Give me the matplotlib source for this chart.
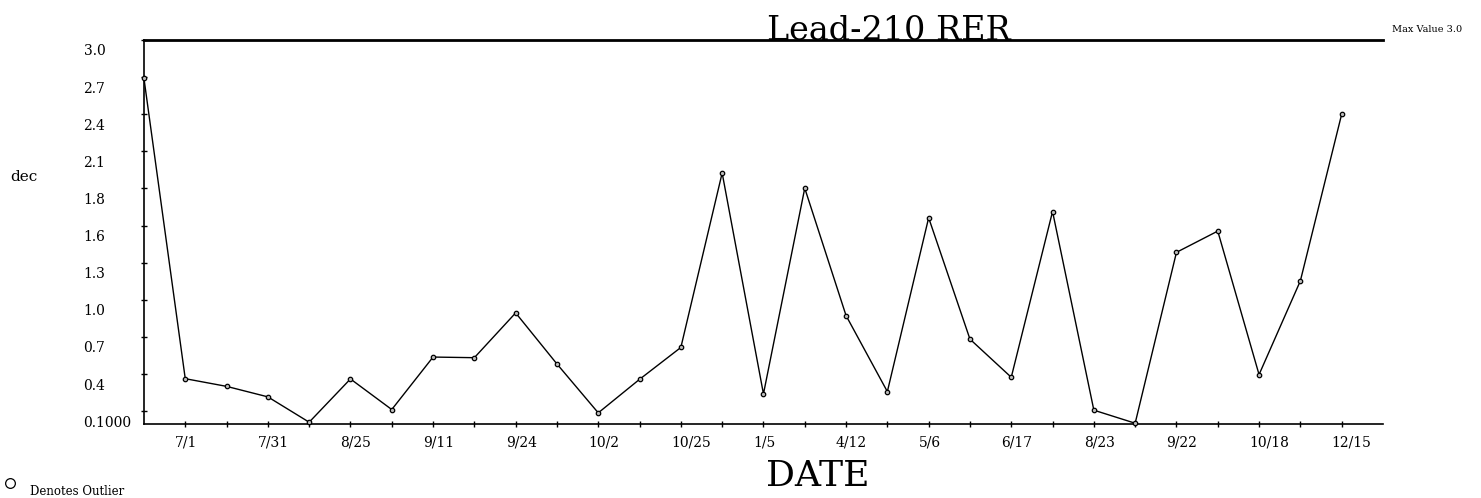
import matplotlib.pyplot as plt
from matplotlib.transforms import ScaledTranslation

# values, one per sample (30 samples)
rer = [2.70, 0.354, 0.294, 0.212, 0.014, 0.352, 0.113, 0.523, 0.518, 0.868,
       0.469, 0.087, 0.349, 0.598, 1.961, 0.235, 1.842, 0.847, 0.253, 1.611,
       0.663, 0.365, 1.660, 0.108, 0.006, 1.341, 1.507, 0.386, 1.118, 2.420]
date_labels = ['7/1', '7/31', '8/25', '9/11', '9/24', '10/2', '10/25', '1/5',
               '4/12', '5/6', '6/17', '8/23', '9/22', '10/18', '12/15']
y_ticks = [0.1, 0.39, 0.68, 0.97, 1.26, 1.55, 1.84, 2.13, 2.42, 2.71, 3.0]
y_tick_labels = ['0.1000', '0.4', '0.7', '1.0', '1.3', '1.6', '1.8', '2.1', '2.4', '2.7', '3.0']
max_value = 3.0

plt.rcParams['font.family'] = ['DejaVu Serif']

fig = plt.figure(figsize=(14.81, 4.98), dpi=100)
ax = fig.add_axes([0.0972, 0.1486, 0.8366, 0.7711])

x = list(range(len(rer)))
ax.plot(x, rer, color='black', linewidth=1.0, marker='o', markersize=3.2,
        markerfacecolor='#bbbbbb', markeredgecolor='black', markeredgewidth=0.9,
        clip_on=False, zorder=3)

ax.set_xlim(0, len(rer))
ax.set_ylim(0, max_value)

# x ticks on every sample, label every other one
x_tick_pos = list(range(1, len(rer)))
x_tick_text = []
for i in x_tick_pos:
    if i % 2 == 1:
        x_tick_text.append(date_labels[i // 2])
    else:
        x_tick_text.append('')
ax.set_xticks(x_tick_pos)
ax.set_xticklabels(x_tick_text, fontsize=10)
ax.set_yticks(y_ticks)
ax.set_yticklabels(y_tick_labels, fontsize=10)

ax.tick_params(axis='x', direction='inout', length=5, width=1.0, pad=6)
ax.tick_params(axis='y', direction='inout', length=4, width=1.0, pad=41.5)

dx = ScaledTranslation(-10 / 100, 0, fig.dpi_scale_trans)
for lab in ax.get_xticklabels():
    lab.set_horizontalalignment('left')
    lab.set_transform(lab.get_transform() + dx)
dy = ScaledTranslation(0, -10 / 100, fig.dpi_scale_trans)
for lab in ax.get_yticklabels():
    lab.set_horizontalalignment('left')
    lab.set_transform(lab.get_transform() + dy)

ax.spines['right'].set_visible(False)
ax.spines['left'].set_linewidth(1.2)
ax.spines['bottom'].set_linewidth(1.2)
ax.spines['top'].set_linewidth(2.0)

fig.text(889 / 1481, 1 - 40 / 498, 'Lead-210 RER', fontsize=24,
         ha='center', va='baseline')
fig.text(818 / 1481, 1 - 476 / 498, 'DATE', fontsize=26, ha='center', va='center')
fig.text(10 / 1481, 1 - 177 / 498, 'dec', fontsize=11, ha='left', va='center')
fig.text(1392 / 1481, 1 - 29 / 498, 'Max Value %.1f' % max_value, fontsize=7,
         ha='left', va='center')
fig.text(30 / 1481, 1 - 491 / 498, 'Denotes Outlier', fontsize=8.5,
         ha='left', va='center')
fig.lines.append(plt.Line2D([10 / 1481], [1 - 483 / 498], marker='o', markersize=7,
                            markerfacecolor='white', markeredgecolor='black',
                            markeredgewidth=0.9, transform=fig.transFigure))

fig.savefig('out.png', dpi=100)
